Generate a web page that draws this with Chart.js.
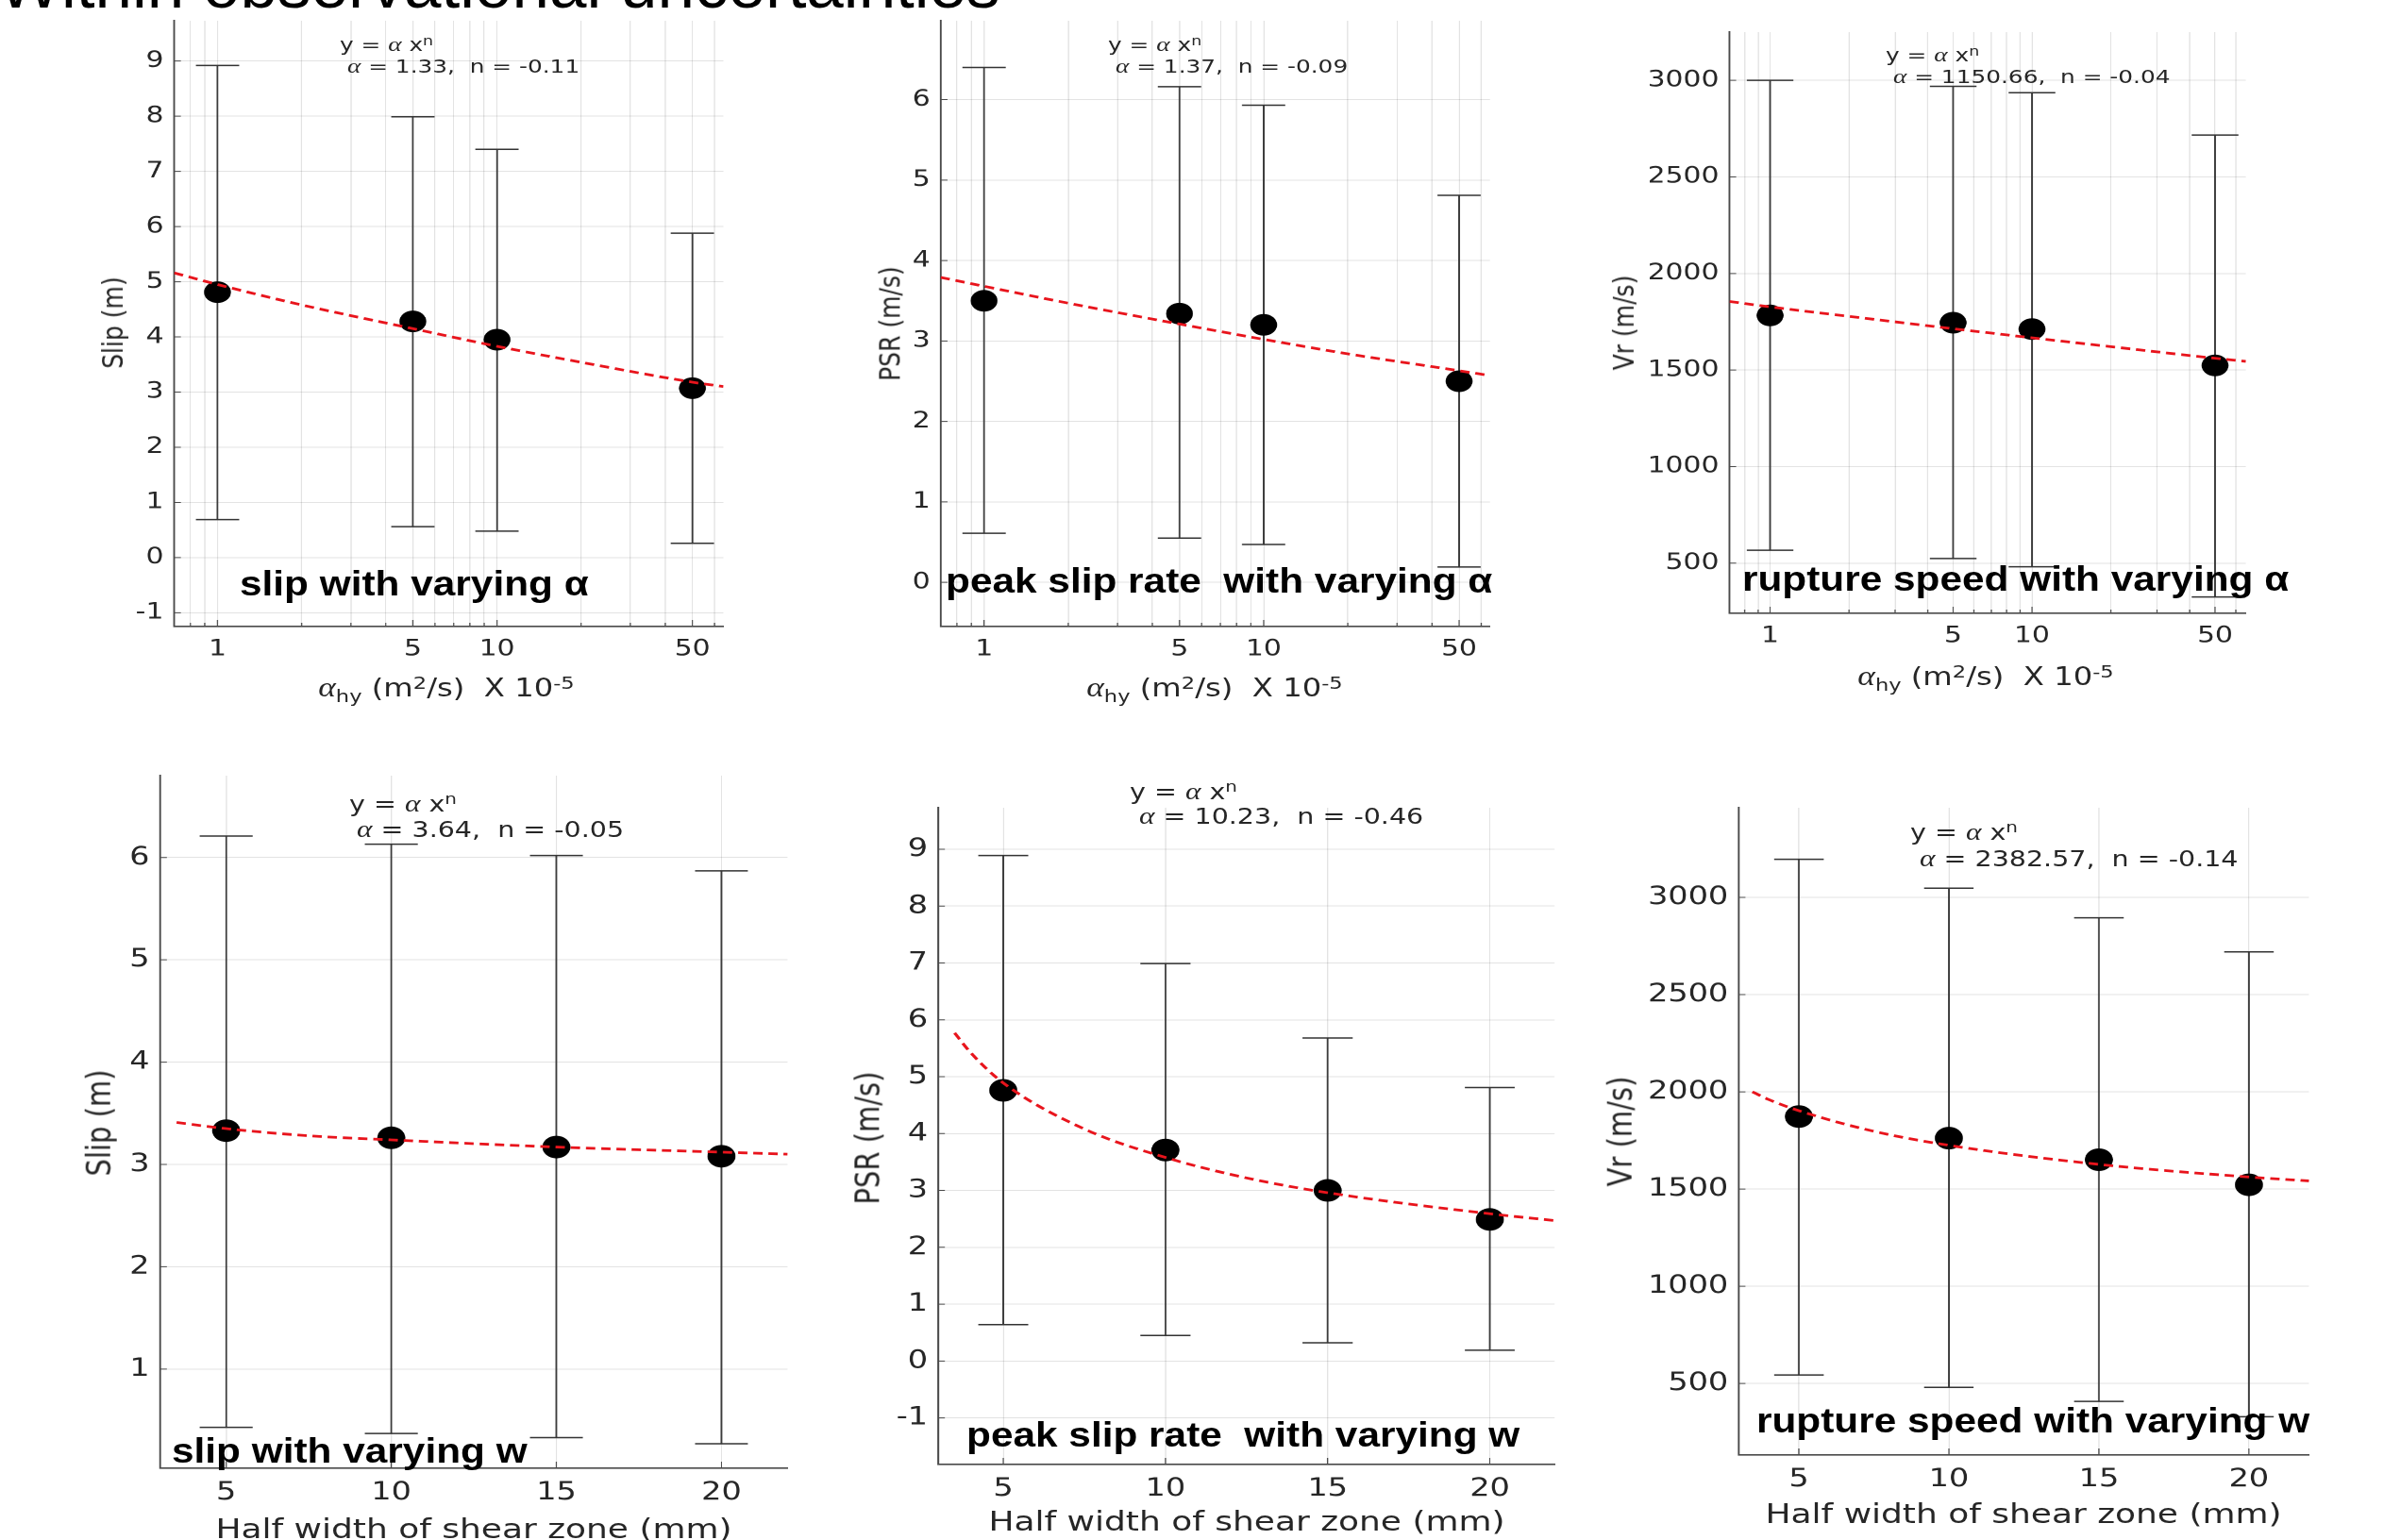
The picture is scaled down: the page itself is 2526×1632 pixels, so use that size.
<!DOCTYPE html>
<html><head><meta charset="utf-8">
<script src="https://cdn.jsdelivr.net/npm/chart.js"></script>
<style>
html,body{margin:0;padding:0;background:#fff;width:2526px;height:1632px;overflow:hidden;}
#stage{position:absolute;left:0;top:0;width:2038px;height:1632px;transform:scaleX(1.24);transform-origin:0 0;}
.box{position:absolute;}
.t{position:absolute;white-space:nowrap;line-height:1;color:#262626;font-family:'DejaVu Sans',sans-serif;}
.g{font-family:'Liberation Serif','DejaVu Serif',serif;font-style:italic;font-size:1.1em;}
.sup{position:relative;top:-0.45em;font-size:0.7em;}
.sub{position:relative;top:0.32em;font-size:0.7em;}
.cap{position:absolute;white-space:nowrap;font-family:'Liberation Sans',Arial,sans-serif;font-weight:bold;font-size:37px;line-height:1;color:#000;transform-origin:0 0;transform:scaleX(1.145);}
#title{position:absolute;left:-2px;top:-52px;font-family:'Liberation Sans',Arial,sans-serif;font-size:71px;line-height:1;white-space:nowrap;color:#000;}
</style></head>
<body>
<div id="title">Within observational uncertainties</div>
<div id="stage"></div>
<script>
// ---------------- data ----------------
const alphaValues = [1, 5, 10, 50];      // alpha_hy (x 1e-5 m^2/s)
const widthValues = [5, 10, 15, 20];     // half width of shear zone (mm)

const alphaGridTicks = [0.7, 0.8, 0.9, 1, 2, 3, 4, 5, 6, 7, 8, 9, 10, 20, 30, 40, 50, 60];
const alphaTickLabels = [1, 5, 10, 50];
const widthTicks = [5, 10, 15, 20];
const slipAlphaYTicks = [-1, 0, 1, 2, 3, 4, 5, 6, 7, 8, 9];
const psrAlphaYTicks = [0, 1, 2, 3, 4, 5, 6];
const vrYTicks = [500, 1000, 1500, 2000, 2500, 3000];
const slipWidthYTicks = [1, 2, 3, 4, 5, 6];
const psrWidthYTicks = [-1, 0, 1, 2, 3, 4, 5, 6, 7, 8, 9];

const slipAlphaMean = [4.81, 4.28, 3.95, 3.07];
const slipAlphaLow  = [0.69, 0.56, 0.48, 0.26];
const slipAlphaHigh = [8.92, 7.99, 7.40, 5.88];
const slipAlphaFitX = [0.7, 1, 2, 5, 10, 20, 50, 64.6];
const slipAlphaFitY = [5.16, 4.95, 4.58, 4.15, 3.83, 3.54, 3.18, 3.10];

const psrAlphaMean = [3.50, 3.34, 3.20, 2.50];
const psrAlphaLow  = [0.61, 0.55, 0.47, 0.19];
const psrAlphaHigh = [6.40, 6.16, 5.93, 4.81];
const psrAlphaFitX = [0.7, 1, 2, 5, 10, 20, 50, 64.5];
const psrAlphaFitY = [3.79, 3.68, 3.47, 3.21, 3.02, 2.84, 2.63, 2.57];

const vrAlphaMean = [1783, 1745, 1712, 1524];
const vrAlphaLow  = [567, 524, 481, 325];
const vrAlphaHigh = [3000, 2969, 2936, 2717];
const vrAlphaFitX = [0.7, 1, 2, 5, 10, 20, 50, 65.5];
const vrAlphaFitY = [1855, 1827, 1778, 1714, 1667, 1621, 1561, 1545];

const slipWidthMean = [3.33, 3.26, 3.17, 3.08];
const slipWidthLow  = [0.43, 0.37, 0.33, 0.27];
const slipWidthHigh = [6.21, 6.13, 6.02, 5.87];
const slipWidthFitX = [3.5, 5, 7.5, 10, 15, 20, 22];
const slipWidthFitY = [3.41, 3.35, 3.28, 3.24, 3.17, 3.12, 3.10];

const psrWidthMean = [4.76, 3.71, 3.00, 2.49];
const psrWidthLow  = [0.64, 0.45, 0.32, 0.19];
const psrWidthHigh = [8.89, 6.99, 5.68, 4.81];
const psrWidthFitX = [3.5, 4, 5, 7.5, 10, 12.5, 15, 20, 22];
const psrWidthFitY = [5.77, 5.42, 4.89, 4.08, 3.58, 3.22, 2.96, 2.59, 2.47];

const vrWidthMean = [1873, 1762, 1651, 1522];
const vrWidthLow  = [544, 480, 408, 329];
const vrWidthHigh = [3196, 3047, 2895, 2720];
const vrWidthFitX = [3.45, 4, 5, 7.5, 10, 15, 20, 22];
const vrWidthFitY = [2000, 1960, 1903, 1797, 1725, 1627, 1562, 1542];

// ---------------- layout ----------------
const S = 1.24;
const stage = document.getElementById('stage');
Chart.defaults.font.family = 'DejaVu Sans';

const alphaXLabel = '<span class="g">α</span><span class="sub">hy</span> (m<span class="sup">2</span>/s)&nbsp;&nbsp;X 10<span class="sup">-5</span>';
const widthXLabel = 'Half width of shear zone (mm)';

const panels = [
  {L:185, T:22, R:767, B:664, xType:'logarithmic', xMin:0.7, xMax:64.6, xTicks:alphaGridTicks, xLabels:alphaTickLabels,
   yMin:-1.25, yMax:9.73, yTicks:slipAlphaYTicks, x:alphaValues, mean:slipAlphaMean, low:slipAlphaLow, high:slipAlphaHigh,
   fitX:slipAlphaFitX, fitY:slipAlphaFitY, tick:24, dotR:11.5, capR:18.5,
   eqF:20, eq1:[360,46], eq2:[368,69], a:'1.33', n:'-0.11',
   yl:'Slip (m)', ylF:25, ylPos:[119,342], xl:alphaXLabel, xlF:26, xlPos:[473,729],
   cap:'slip with varying α', capPos:[254,631]},
  {L:997, T:22, R:1579, B:664, xType:'logarithmic', xMin:0.7, xMax:64.5, xTicks:alphaGridTicks, xLabels:alphaTickLabels,
   yMin:-0.55, yMax:6.98, yTicks:psrAlphaYTicks, x:alphaValues, mean:psrAlphaMean, low:psrAlphaLow, high:psrAlphaHigh,
   fitX:psrAlphaFitX, fitY:psrAlphaFitY, tick:24, dotR:11.5, capR:18.5,
   eqF:20, eq1:[1174,46], eq2:[1182,69], a:'1.37', n:'-0.09',
   yl:'PSR (m/s)', ylF:25, ylPos:[942,343], xl:alphaXLabel, xlF:26, xlPos:[1287,729],
   cap:'peak slip rate&nbsp; with varying α', capPos:[1002,628]},
  {L:1833, T:34, R:2380, B:649.5, xType:'logarithmic', xMin:0.7, xMax:65.5, xTicks:alphaGridTicks, xLabels:alphaTickLabels,
   yMin:240, yMax:3250, yTicks:vrYTicks, x:alphaValues, mean:vrAlphaMean, low:vrAlphaLow, high:vrAlphaHigh,
   fitX:vrAlphaFitX, fitY:vrAlphaFitY, tick:24, dotR:11.5, capR:20,
   eqF:20, eq1:[1998,57], eq2:[2006,80], a:'1150.66', n:'-0.04',
   yl:'Vr (m/s)', ylF:25, ylPos:[1720,342], xl:alphaXLabel, xlF:26, xlPos:[2104,717],
   cap:'rupture speed with varying α', capPos:[1846,626]},
  {L:170, T:822, R:835, B:1556, xType:'linear', xMin:3, xMax:22, xTicks:widthTicks, xLabels:widthTicks,
   yMin:0.03, yMax:6.8, yTicks:slipWidthYTicks, x:widthValues, mean:slipWidthMean, low:slipWidthLow, high:slipWidthHigh,
   fitX:slipWidthFitX, fitY:slipWidthFitY, tick:27, dotR:12, capR:22.6,
   eqF:23, eq1:[370,850], eq2:[378,877], a:'3.64', n:'-0.05',
   yl:'Slip (m)', ylF:29, ylPos:[106,1190], xl:widthXLabel, xlF:29, xlPos:[502,1620],
   cap:'slip with varying w', capPos:[182,1550]},
  {L:994, T:856, R:1647, B:1552, xType:'linear', xMin:3, xMax:22, xTicks:widthTicks, xLabels:widthTicks,
   yMin:-1.82, yMax:9.73, yTicks:psrWidthYTicks, x:widthValues, mean:psrWidthMean, low:psrWidthLow, high:psrWidthHigh,
   fitX:psrWidthFitX, fitY:psrWidthFitY, tick:27, dotR:12, capR:21.4,
   eqF:23, eq1:[1197,837], eq2:[1207,863], a:'10.23', n:'-0.46',
   yl:'PSR (m/s)', ylF:29, ylPos:[920,1206], xl:widthXLabel, xlF:29, xlPos:[1321,1612],
   cap:'peak slip rate&nbsp; with varying w', capPos:[1024,1533]},
  {L:1843, T:856, R:2447, B:1542, xType:'linear', xMin:3, xMax:22, xTicks:widthTicks, xLabels:widthTicks,
   yMin:132, yMax:3461, yTicks:vrYTicks, x:widthValues, mean:vrWidthMean, low:vrWidthLow, high:vrWidthHigh,
   fitX:vrWidthFitX, fitY:vrWidthFitY, tick:27, dotR:12, capR:21.2,
   eqF:23, eq1:[2024,880], eq2:[2034,908], a:'2382.57', n:'-0.14',
   yl:'Vr (m/s)', ylF:29, ylPos:[1718,1199], xl:widthXLabel, xlF:29, xlPos:[2144,1604],
   cap:'rupture speed with varying w', capPos:[1861,1518]}
];

// small inward tick marks (MATLAB style), placed via the chart's own scales
const innerTicks = {
  id: 'innerTicks',
  afterDraw(chart) {
    const ctx = chart.ctx, a = chart.chartArea;
    const xs = chart.scales.x, ys = chart.scales.y;
    ctx.save();
    ctx.strokeStyle = '#4a4a4a';
    ctx.lineWidth = 1;
    ctx.beginPath();
    xs.ticks.forEach(t => {
      const px = xs.getPixelForValue(t.value);
      const len = (t.label === '' ? 4 : 7);
      ctx.moveTo(px, a.bottom);
      ctx.lineTo(px, a.bottom - len);
    });
    ys.ticks.forEach(t => {
      const py = ys.getPixelForValue(t.value);
      ctx.moveTo(a.left, py);
      ctx.lineTo(a.left + 7 / S, py);
    });
    ctx.stroke();
    ctx.restore();
  }
};

function addText(html, x, y, size, mode) {
  const d = document.createElement('div');
  d.className = 't';
  d.style.fontSize = size + 'px';
  d.innerHTML = html;
  d.style.left = (x / S) + 'px';
  if (mode === 'left') {
    d.style.top = (y - size * 0.5) + 'px';
  } else if (mode === 'center') {
    d.style.top = y + 'px';
    d.style.transform = 'translate(-50%,-50%)';
  } else if (mode === 'rot') {
    d.style.top = y + 'px';
    d.style.transform = 'translate(-50%,-50%) rotate(-90deg)';
  }
  stage.appendChild(d);
}

function addCaption(html, x, baseline) {
  const d = document.createElement('div');
  d.className = 'cap';
  d.innerHTML = html;
  d.style.left = x + 'px';
  d.style.top = (baseline - 31.3) + 'px';
  document.body.appendChild(d);
}

function makePanel(c) {
  const padL = 130, padR = 30, padT = 40, padB = 72;
  const w = Math.round((c.R - c.L + padL + padR) / S);
  const h = Math.round(c.B - c.T + padT + padB);
  const box = document.createElement('div');
  box.className = 'box';
  box.style.left = ((c.L - padL) / S) + 'px';
  box.style.top = (c.T - padT) + 'px';
  const cv = document.createElement('canvas');
  cv.width = w; cv.height = h;
  box.appendChild(cv);
  stage.appendChild(box);
  const innerW = (c.R - c.L) / S;
  const rightPad = w - padL / S - innerW;

  const stems = [];
  c.x.forEach((x, i) => { stems.push({x, y: c.low[i]}, {x, y: c.high[i]}, {x, y: null}); });
  const caps = [];
  c.x.forEach((x, i) => { caps.push({x, y: c.low[i]}, {x, y: c.high[i]}); });

  const tickFont = {family: 'DejaVu Sans', size: c.tick};
  const gridCfg = {color: 'rgba(0,0,0,0.11)', lineWidth: 1, drawTicks: false};
  const borderCfg = {color: '#4a4a4a', width: 1.6};

  new Chart(cv, {
    type: 'scatter',
    data: {datasets: [
      {label: 'fit', data: c.fitX.map((x, i) => ({x, y: c.fitY[i]})), showLine: true,
       borderColor: '#e8141c', borderWidth: 2.8, borderDash: [8, 5], pointRadius: 0,
       cubicInterpolationMode: 'monotone', order: 0},
      {label: 'mean', data: c.x.map((x, i) => ({x, y: c.mean[i]})), pointRadius: c.dotR,
       pointBackgroundColor: '#000', pointBorderColor: '#000', pointBorderWidth: 0, order: 1},
      {label: 'caps', data: caps, pointStyle: 'line', pointRadius: c.capR,
       pointBorderColor: '#333', pointBorderWidth: 1.5, order: 2},
      {label: 'bars', data: stems, showLine: true, borderColor: '#3c3c3c', borderWidth: 1.5,
       pointRadius: 0, spanGaps: false, order: 3}
    ]},
    options: {
      responsive: false, animation: false, devicePixelRatio: 2, events: [],
      layout: {padding: {left: 0, top: padT, right: rightPad, bottom: 0}},
      plugins: {legend: {display: false}, tooltip: {enabled: false}},
      scales: {
        x: {type: c.xType, min: c.xMin, max: c.xMax,
            afterFit: (s) => { s.height = padB; },
            afterBuildTicks: (s) => { s.ticks = c.xTicks.map(v => ({value: v})); },
            ticks: {autoSkip: false, maxRotation: 0, minRotation: 0, padding: 10, font: tickFont, color: '#262626',
                    callback: (v) => c.xLabels.includes(v) ? String(v) : ''},
            grid: gridCfg, border: borderCfg},
        y: {type: 'linear', min: c.yMin, max: c.yMax,
            afterFit: (s) => { s.width = padL / S; },
            afterBuildTicks: (s) => { s.ticks = c.yTicks.map(v => ({value: v})); },
            ticks: {padding: 9, font: tickFont, color: '#262626', callback: (v) => String(v)},
            grid: gridCfg, border: borderCfg}
      }
    },
    plugins: [innerTicks]
  });

  addText('y = <span class="g">α</span> x<span class="sup">n</span>', c.eq1[0], c.eq1[1], c.eqF, 'left');
  addText('<span class="g">α</span> = ' + c.a + ',&nbsp; n = ' + c.n, c.eq2[0], c.eq2[1], c.eqF, 'left');
  addText(c.yl, c.ylPos[0], c.ylPos[1], c.ylF, 'rot');
  addText(c.xl, c.xlPos[0], c.xlPos[1], c.xlF, 'center');
  addCaption(c.cap, c.capPos[0], c.capPos[1]);
}

panels.forEach(makePanel);
</script>
</body></html>
